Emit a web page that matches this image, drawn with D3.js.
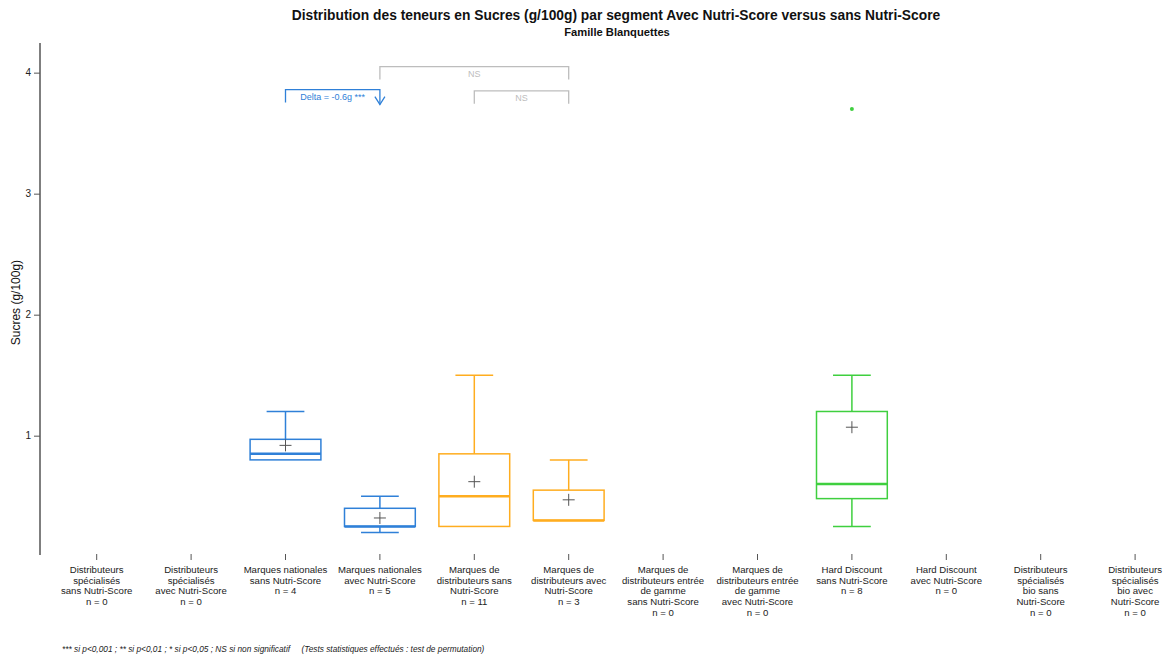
<!DOCTYPE html>
<html><head><meta charset="utf-8">
<script src="https://cdn.jsdelivr.net/npm/d3@7"></script>
<style>body{margin:0;background:#fff;} svg{display:block;font-family:"Liberation Sans",Arial,sans-serif;}</style>
</head><body>
<svg id="c" width="1165" height="656"></svg>
<script>
const categories = [
  "Distributeurs spécialisés sans Nutri-Score","Distributeurs spécialisés avec Nutri-Score",
  "Marques nationales sans Nutri-Score","Marques nationales avec Nutri-Score",
  "Marques de distributeurs sans Nutri-Score","Marques de distributeurs avec Nutri-Score",
  "Marques de distributeurs entrée de gamme sans Nutri-Score","Marques de distributeurs entrée de gamme avec Nutri-Score",
  "Hard Discount sans Nutri-Score","Hard Discount avec Nutri-Score",
  "Distributeurs spécialisés bio sans Nutri-Score","Distributeurs spécialisés bio avec Nutri-Score"];
const labelLines = [
  ["Distributeurs","spécialisés","sans Nutri-Score"],
  ["Distributeurs","spécialisés","avec Nutri-Score"],
  ["Marques nationales","sans Nutri-Score"],
  ["Marques nationales","avec Nutri-Score"],
  ["Marques de","distributeurs sans","Nutri-Score"],
  ["Marques de","distributeurs avec","Nutri-Score"],
  ["Marques de","distributeurs entrée","de gamme","sans Nutri-Score"],
  ["Marques de","distributeurs entrée","de gamme","avec Nutri-Score"],
  ["Hard Discount","sans Nutri-Score"],
  ["Hard Discount","avec Nutri-Score"],
  ["Distributeurs","spécialisés","bio sans","Nutri-Score"],
  ["Distributeurs","spécialisés","bio avec","Nutri-Score"]];
const counts      = [0,0,4,5,11,3,0,0,8,0,0,0];
const whiskerLow  = [null,null,0.80,0.20,0.25,0.30,null,null,0.25,null,null,null];
const q1          = [null,null,0.80,0.25,0.25,0.30,null,null,0.48,null,null,null];
const medians     = [null,null,0.85,0.25,0.50,0.30,null,null,0.60,null,null,null];
const q3          = [null,null,0.97,0.40,0.85,0.55,null,null,1.20,null,null,null];
const whiskerHigh = [null,null,1.20,0.50,1.50,0.80,null,null,1.50,null,null,null];
const means       = [null,null,0.92,0.32,0.62,0.47,null,null,1.07,null,null,null];
const outliers    = [[],[],[],[],[],[],[],[],[3.70],[],[],[]];
const boxColors   = ["#2f80d8","#2f80d8","#2f80d8","#2f80d8","#ffad1f","#ffad1f","#ffad1f","#ffad1f","#3fcf3f","#3fcf3f","#3fcf3f","#3fcf3f"];
const yTicks = [1,2,3,4];
// comparisons: from index, to index, label, bracket top level, significant?
const compFrom  = [2,3,4];
const compTo    = [3,5,5];
const compLabel = ["Delta = -0.6g ***","NS","NS"];
const compTop   = [3.86,4.05,3.85];
const compSig   = [true,false,false];

const svg = d3.select("#c");
const x = d3.scalePoint().domain(categories).range([49.5,1182.3]).padding(0.5);
const y = d3.scaleLinear().domain([0,4.245]).range([556.7,43]);
const step = x.step();
const boxW = step*0.75, capW = step*0.4;

// title
svg.append("text").attr("x",616).attr("y",20).attr("text-anchor","middle")
  .attr("font-size",13.8).attr("font-weight","bold").attr("fill","#111")
  .text("Distribution des teneurs en Sucres (g/100g) par segment Avec Nutri-Score versus sans Nutri-Score");
svg.append("text").attr("x",617).attr("y",36).attr("text-anchor","middle")
  .attr("font-size",11.2).attr("font-weight","bold").attr("fill","#111")
  .text("Famille Blanquettes");

// y axis
const yAxis = d3.axisLeft(y).tickValues(yTicks).tickSize(6).tickFormat(d3.format("d"));
const gy = svg.append("g").attr("transform","translate(40,0)").call(yAxis);
gy.select(".domain").remove();
gy.selectAll(".tick line").attr("stroke","#555").attr("stroke-width",1);
gy.selectAll(".tick text").attr("font-size",10).attr("fill","#222").attr("font-family","Liberation Sans, Arial, sans-serif");
svg.append("line").attr("x1",40).attr("x2",40).attr("y1",43).attr("y2",555)
  .attr("stroke","#555").attr("stroke-width",1.5);
svg.append("text").attr("transform","translate(20,"+y(2.1)+") rotate(-90)")
  .attr("text-anchor","middle").attr("font-size",12).attr("fill","#111").text("Sucres (g/100g)");

// x ticks and labels
const gx = svg.append("g");
categories.forEach((c,i)=>{
  const cx = x(c);
  gx.append("line").attr("x1",cx).attr("x2",cx).attr("y1",554).attr("y2",560).attr("stroke","#555");
  const t = gx.append("text").attr("text-anchor","middle").attr("font-size",9.6).attr("fill","#222");
  const lines = labelLines[i].concat(["n = "+counts[i]]);
  lines.forEach((l,k)=>{ t.append("tspan").attr("x",cx).attr("y",573+k*10.7).text(l); });
});

// boxes
const gb = svg.append("g");
categories.forEach((c,i)=>{
  if (medians[i]==null) return;
  const cx = x(c), col = boxColors[i];
  const g = gb.append("g").attr("stroke",col).attr("fill","none");
  g.append("line").attr("x1",cx).attr("x2",cx).attr("y1",y(q3[i])).attr("y2",y(whiskerHigh[i])).attr("stroke-width",1.5);
  g.append("line").attr("x1",cx).attr("x2",cx).attr("y1",y(q1[i])).attr("y2",y(whiskerLow[i])).attr("stroke-width",1.5);
  g.append("line").attr("x1",cx-capW/2).attr("x2",cx+capW/2).attr("y1",y(whiskerHigh[i])).attr("y2",y(whiskerHigh[i])).attr("stroke-width",1.5);
  if (whiskerLow[i] < q1[i])
    g.append("line").attr("x1",cx-capW/2).attr("x2",cx+capW/2).attr("y1",y(whiskerLow[i])).attr("y2",y(whiskerLow[i])).attr("stroke-width",1.5);
  g.append("rect").attr("x",cx-boxW/2).attr("width",boxW).attr("y",y(q3[i])).attr("height",y(q1[i])-y(q3[i])).attr("stroke-width",1.5);
  g.append("line").attr("x1",cx-boxW/2).attr("x2",cx+boxW/2).attr("y1",y(medians[i])).attr("y2",y(medians[i])).attr("stroke-width",2.5);
  const my = y(means[i]);
  gb.append("path").attr("d",`M${cx-6},${my}H${cx+6}M${cx},${my-6}V${my+6}`).attr("stroke","#555").attr("stroke-width",1);
  outliers[i].forEach(o=>{
    gb.append("circle").attr("cx",cx).attr("cy",y(o)).attr("r",2).attr("fill",col);
  });
});

// comparisons
const ga = svg.append("g");
compFrom.forEach((f,k)=>{
  const x1 = x(categories[f]), x2 = x(categories[compTo[k]]);
  const yt = y(compTop[k]);
  const col = compSig[k] ? "#2f80d8" : "#bdbdbd";
  const legBottom = yt + 13;
  ga.append("path").attr("d",`M${x1},${legBottom}V${yt}H${x2}V${legBottom + (compSig[k]?2:0)}`)
    .attr("fill","none").attr("stroke",col).attr("stroke-width",1.3);
  if (compSig[k]) {
    ga.append("path").attr("d",`M${x2-5},${legBottom-6}L${x2},${legBottom+2}L${x2+5},${legBottom-6}`)
      .attr("fill","none").attr("stroke",col).attr("stroke-width",1.3);
  }
  ga.append("text").attr("x",(x1+x2)/2).attr("y",yt+10.5).attr("text-anchor","middle")
    .attr("font-size",9).attr("fill",col).text(compLabel[k]);
});

// footnote
svg.append("text").attr("x",62).attr("y",652).attr("font-size",8.3).attr("font-style","italic").attr("fill","#222")
  .attr("xml:space","preserve")
  .text("*** si p<0,001 ; ** si p<0,01 ; * si p<0,05 ; NS si non significatif     (Tests statistiques effectués : test de permutation)");
</script>
</body></html>
